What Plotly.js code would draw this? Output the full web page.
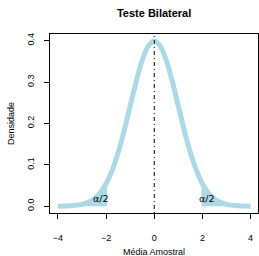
<!DOCTYPE html>
<html>
<head>
<meta charset="utf-8">
<script src="https://cdn.plot.ly/plotly-3.0.1.min.js"></script>
<style>html,body{margin:0;padding:0;background:#fff;}#chart{width:259px;height:256px;}</style>
</head>
<body>
<div id="chart"></div>
<script>
// Values (density of the sample mean)
const curveX = [-4,-3.75,-3.5,-3.25,-3,-2.75,-2.5,-2.25,-2,-1.75,-1.5,-1.25,-1,-0.75,-0.5,-0.25,0,0.25,0.5,0.75,1,1.25,1.5,1.75,2,2.25,2.5,2.75,3,3.25,3.5,3.75,4];
const curveY = [0.0001,0.0004,0.0009,0.0020,0.0044,0.0091,0.0175,0.0317,0.0540,0.0863,0.1295,0.1826,0.2420,0.3011,0.3521,0.3867,0.3989,0.3867,0.3521,0.3011,0.2420,0.1826,0.1295,0.0863,0.0540,0.0317,0.0175,0.0091,0.0044,0.0020,0.0009,0.0004,0.0001];
// Shaded tails (rejection regions)
const leftTailX = [-4,-3.75,-3.5,-3.25,-3,-2.75,-2.5,-2.25,-1.96];
const leftTailY = [0.0001,0.0004,0.0009,0.0020,0.0044,0.0091,0.0175,0.0317,0.0584];
const rightTailX = [1.96,2.25,2.5,2.75,3,3.25,3.5,3.75,4];
const rightTailY = [0.0584,0.0317,0.0175,0.0091,0.0044,0.0020,0.0009,0.0004,0.0001];
const tailLabels = ['α/2','α/2'];
const xTicks = [-4,-2,0,2,4];
const xTickLabels = ['−4','−2','0','2','4'];
const yTicks = [0,0.1,0.2,0.3,0.4];
const yTickLabels = ['0.0','0.1','0.2','0.3','0.4'];
const xTitle = 'Média Amostral';

const blue = '#ADD8E6';
const font = 'Liberation Sans, Arial, Helvetica, sans-serif';

const traces = [
  {x: leftTailX.concat([-1.96]), y: leftTailY.concat([0]), mode:'lines', fill:'tozeroy', fillcolor: blue, line:{width:0, color: blue}, hoverinfo:'skip'},
  {x: [1.96].concat(rightTailX), y: [0].concat(rightTailY), mode:'lines', fill:'tozeroy', fillcolor: blue, line:{width:0, color: blue}, hoverinfo:'skip'},
  {x: curveX, y: curveY, mode:'lines', line:{color: blue, width:5, shape:'spline'}, hoverinfo:'skip'}
];

const layout = {
  width: 259, height: 256,
  margin: {l:50, r:1, t:34, b:43},
  paper_bgcolor:'#fff', plot_bgcolor:'#fff',
  showlegend:false,
  font:{family: font, size:9, color:'#000'},
  title:{text:'<b>Teste Bilateral</b>', font:{family: font, size:11, color:'#000'}, x:0.595, xanchor:'center', y:0.95, yanchor:'middle', yref:'container'},
  xaxis:{
    range:[-4.33,4.31], tickvals: xTicks, ticktext: xTickLabels,
    showgrid:false, zeroline:false, showline:true, mirror:true, linecolor:'#000', linewidth:1,
    ticks:'outside', ticklen:5, tickcolor:'#000', ticklabelstandoff:11
  },
  yaxis:{
    range:[-0.0165,0.416], tickvals: yTicks, ticktext: yTickLabels, tickangle:-90,
    showgrid:false, zeroline:false, showline:true, mirror:true, linecolor:'#000', linewidth:1,
    ticks:'outside', ticklen:5, tickcolor:'#000', ticklabelstandoff:6,
    title:{text:'Densidade', font:{family: font, size:9}, standoff:10}
  },
  shapes:[{type:'line', xref:'x', yref:'paper', x0:0, x1:0, y0:0, y1:1, line:{color:'#000', width:1, dash:'1px,3px,4px,3px'}}],
  annotations:[
    {x:0.5, y:-0.216, xref:'paper', yref:'paper', xanchor:'center', yanchor:'middle', text: xTitle, showarrow:false, font:{family: font, size:9}},
    {x:-2.2, y:0.018, xref:'x', yref:'y', text: tailLabels[0], showarrow:false, font:{family: 'DejaVu Sans, sans-serif', size:9.5}},
    {x:2.2, y:0.018, xref:'x', yref:'y', text: tailLabels[1], showarrow:false, font:{family: 'DejaVu Sans, sans-serif', size:9.5}}
  ]
};
Plotly.newPlot('chart', traces, layout, {displayModeBar:false, staticPlot:true});
</script>
</body>
</html>
